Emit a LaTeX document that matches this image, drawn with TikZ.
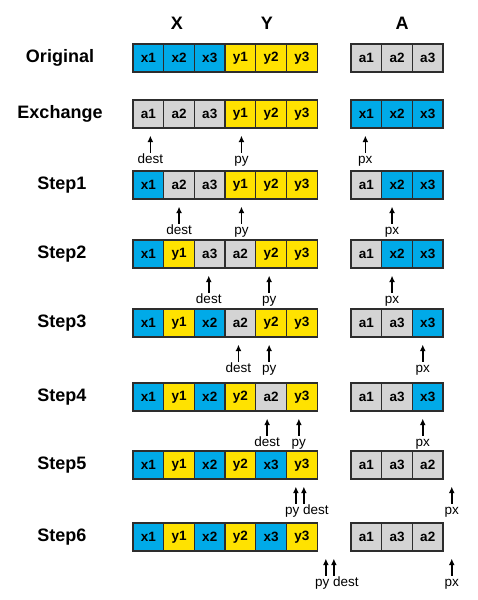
\documentclass[tikz,border=0pt]{standalone}
\usepackage{fontspec}
\setmainfont{Liberation Sans}
\usepackage{tikz}
\usetikzlibrary{calc,arrows.meta}
\definecolor{cellBlue}{RGB}{0,170,232}
\definecolor{cellYellow}{RGB}{255,226,0}
\definecolor{cellGray}{RGB}{212,212,212}
\definecolor{cellEdge}{RGB}{45,45,45}

\begin{document}
\begin{tikzpicture}[x=1pt,y=-1pt,
  cell/.style={draw=cellEdge, line width=1.3pt, minimum width=30.7pt, minimum height=28pt, inner sep=0pt, font=\bfseries\fontsize{13.5}{13.5}\selectfont},
  rowname/.style={font=\bfseries\fontsize{18}{18}\selectfont},
  ptr/.style={-{Latex[length=6.5pt,width=6pt]}, line width=1.7pt, shorten >=7pt},
  ptrname/.style={font=\fontsize{13.5}{13.5}\selectfont, inner sep=1pt, text height=9.8pt, text depth=2.9pt}]
\useasboundingbox (0,0) rectangle (478,600);

\node[rowname] (hx) at (177,23) {X};
\node[rowname] (hy) at (267,23) {Y};
\node[rowname] (ha) at (402,23) {A};

\begin{scope}[shift={(0,58)}]
\node[rowname] (orig) at (60,0) {Original};
\foreach \t/\c [count=\i] in {x1/cellBlue,x2/cellBlue,x3/cellBlue,y1/cellYellow,y2/cellYellow,y3/cellYellow}
  \node[cell, fill=\c] (origm\i) at ({133+(\i-0.5)*30.7},0) {\t};
\foreach \t/\c [count=\i] in {a1/cellGray,a2/cellGray,a3/cellGray}
  \node[cell, fill=\c] (origa\i) at ({351+(\i-0.5)*30.7},0) {\t};
\end{scope}

\begin{scope}[shift={(0,114)}]
\node[rowname] (exch) at (60,0) {Exchange};
\foreach \t/\c [count=\i] in {a1/cellGray,a2/cellGray,a3/cellGray,y1/cellYellow,y2/cellYellow,y3/cellYellow}
  \node[cell, fill=\c] (exchm\i) at ({133+(\i-0.5)*30.7},0) {\t};
\foreach \t/\c [count=\i] in {x1/cellBlue,x2/cellBlue,x3/cellBlue}
  \node[cell, fill=\c] (excha\i) at ({351+(\i-0.5)*30.7},0) {\t};
\end{scope}
\node[ptrname] (exchdest) at ($(exchm1.south)+(2,31.5)$) {dest};
\node[ptrname] (exchpy) at ($(exchm4.south)+(1,31.5)$) {py};
\node[ptrname] (exchpx) at ($(excha1.south)+(-1,31.5)$) {px};
\draw[ptr] (exchdest.north) -- (exchdest.north |- exchm1.south);
\draw[ptr] (exchpy.north) -- (exchpy.north |- exchm4.south);
\draw[ptr] (exchpx.north) -- (exchpx.north |- excha1.south);

\begin{scope}[shift={(0,185)}]
\node[rowname] (sa) at (62,0) {Step1};
\foreach \t/\c [count=\i] in {x1/cellBlue,a2/cellGray,a3/cellGray,y1/cellYellow,y2/cellYellow,y3/cellYellow}
  \node[cell, fill=\c] (sam\i) at ({133+(\i-0.5)*30.7},0) {\t};
\foreach \t/\c [count=\i] in {a1/cellGray,x2/cellBlue,x3/cellBlue}
  \node[cell, fill=\c] (saa\i) at ({351+(\i-0.5)*30.7},0) {\t};
\end{scope}
\node[ptrname] (sadest) at ($(sam2.south)+(0,31.5)$) {dest};
\node[ptrname] (sapy) at ($(sam4.south)+(1,31.5)$) {py};
\node[ptrname] (sapx) at ($(saa2.south)+(-5,31.5)$) {px};
\draw[ptr] (sadest.north) -- (sadest.north |- sam2.south);
\draw[ptr] (sapy.north) -- (sapy.north |- sam4.south);
\draw[ptr] (sapx.north) -- (sapx.north |- saa2.south);

\begin{scope}[shift={(0,254)}]
\node[rowname] (sb) at (62,0) {Step2};
\foreach \t/\c [count=\i] in {x1/cellBlue,y1/cellYellow,a3/cellGray,a2/cellGray,y2/cellYellow,y3/cellYellow}
  \node[cell, fill=\c] (sbm\i) at ({133+(\i-0.5)*30.7},0) {\t};
\foreach \t/\c [count=\i] in {a1/cellGray,x2/cellBlue,x3/cellBlue}
  \node[cell, fill=\c] (sba\i) at ({351+(\i-0.5)*30.7},0) {\t};
\end{scope}
\node[ptrname] (sbdest) at ($(sbm3.south)+(-1,31.5)$) {dest};
\node[ptrname] (sbpy) at ($(sbm5.south)+(-2,31.5)$) {py};
\node[ptrname] (sbpx) at ($(sba2.south)+(-5,31.5)$) {px};
\draw[ptr] (sbdest.north) -- (sbdest.north |- sbm3.south);
\draw[ptr] (sbpy.north) -- (sbpy.north |- sbm5.south);
\draw[ptr] (sbpx.north) -- (sbpx.north |- sba2.south);

\begin{scope}[shift={(0,323)}]
\node[rowname] (sc) at (62,0) {Step3};
\foreach \t/\c [count=\i] in {x1/cellBlue,y1/cellYellow,x2/cellBlue,a2/cellGray,y2/cellYellow,y3/cellYellow}
  \node[cell, fill=\c] (scm\i) at ({133+(\i-0.5)*30.7},0) {\t};
\foreach \t/\c [count=\i] in {a1/cellGray,a3/cellGray,x3/cellBlue}
  \node[cell, fill=\c] (sca\i) at ({351+(\i-0.5)*30.7},0) {\t};
\end{scope}
\node[ptrname] (scdest) at ($(scm4.south)+(-2,31.5)$) {dest};
\node[ptrname] (scpy) at ($(scm5.south)+(-2,31.5)$) {py};
\node[ptrname] (scpx) at ($(sca3.south)+(-5,31.5)$) {px};
\draw[ptr] (scdest.north) -- (scdest.north |- scm4.south);
\draw[ptr] (scpy.north) -- (scpy.north |- scm5.south);
\draw[ptr] (scpx.north) -- (scpx.north |- sca3.south);

\begin{scope}[shift={(0,397)}]
\node[rowname] (sd) at (62,0) {Step4};
\foreach \t/\c [count=\i] in {x1/cellBlue,y1/cellYellow,x2/cellBlue,y2/cellYellow,a2/cellGray,y3/cellYellow}
  \node[cell, fill=\c] (sdm\i) at ({133+(\i-0.5)*30.7},0) {\t};
\foreach \t/\c [count=\i] in {a1/cellGray,a3/cellGray,x3/cellBlue}
  \node[cell, fill=\c] (sda\i) at ({351+(\i-0.5)*30.7},0) {\t};
\end{scope}
\node[ptrname] (sddest) at ($(sdm5.south)+(-4,31.5)$) {dest};
\node[ptrname] (sdpy) at ($(sdm6.south)+(-3,31.5)$) {py};
\node[ptrname] (sdpx) at ($(sda3.south)+(-5,31.5)$) {px};
\draw[ptr] (sddest.north) -- (sddest.north |- sdm5.south);
\draw[ptr] (sdpy.north) -- (sdpy.north |- sdm6.south);
\draw[ptr] (sdpx.north) -- (sdpx.north |- sda3.south);

\begin{scope}[shift={(0,465)}]
\node[rowname] (se) at (62,0) {Step5};
\foreach \t/\c [count=\i] in {x1/cellBlue,y1/cellYellow,x2/cellBlue,y2/cellYellow,x3/cellBlue,y3/cellYellow}
  \node[cell, fill=\c] (sem\i) at ({133+(\i-0.5)*30.7},0) {\t};
\foreach \t/\c [count=\i] in {a1/cellGray,a3/cellGray,a2/cellGray}
  \node[cell, fill=\c] (sea\i) at ({351+(\i-0.5)*30.7},0) {\t};
\end{scope}
\node[ptrname] (sepd) at ($(sem6.south)+(5,31.5)$) {py dest};
\coordinate (sepy) at ($(sepd.north)+(-11,0)$);
\coordinate (sedest) at ($(sepd.north)+(-3,0)$);
\node[ptrname] (sepx) at ($(sea3.south)+(24,31.5)$) {px};
\draw[ptr] (sepy) -- (sepy |- sem6.south);
\draw[ptr] (sedest) -- (sedest |- sem6.south);
\draw[ptr] (sepx.north) -- (sepx.north |- sea3.south);

\begin{scope}[shift={(0,537)}]
\node[rowname] (sf) at (62,0) {Step6};
\foreach \t/\c [count=\i] in {x1/cellBlue,y1/cellYellow,x2/cellBlue,y2/cellYellow,x3/cellBlue,y3/cellYellow}
  \node[cell, fill=\c] (sfm\i) at ({133+(\i-0.5)*30.7},0) {\t};
\foreach \t/\c [count=\i] in {a1/cellGray,a3/cellGray,a2/cellGray}
  \node[cell, fill=\c] (sfa\i) at ({351+(\i-0.5)*30.7},0) {\t};
\end{scope}
\node[ptrname] (sfpd) at ($(sfm6.south)+(35,31.5)$) {py dest};
\coordinate (sfpy) at ($(sfpd.north)+(-11,0)$);
\coordinate (sfdest) at ($(sfpd.north)+(-3,0)$);
\node[ptrname] (sfpx) at ($(sfa3.south)+(24,31.5)$) {px};
\draw[ptr] (sfpy) -- (sfpy |- sfm6.south);
\draw[ptr] (sfdest) -- (sfdest |- sfm6.south);
\draw[ptr] (sfpx.north) -- (sfpx.north |- sfa3.south);
\end{tikzpicture}
\end{document}
